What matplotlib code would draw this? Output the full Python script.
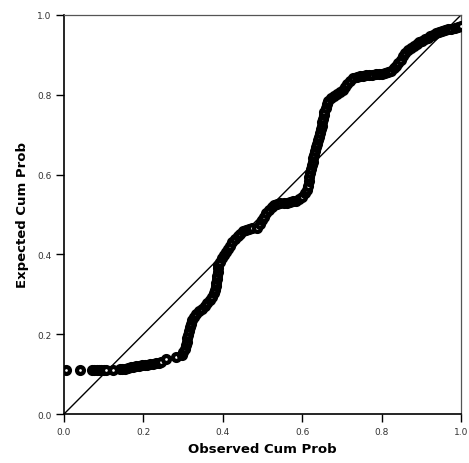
import numpy as np
import matplotlib.pyplot as plt

# observed vs expected cumulative probability (P-P plot)
observed = [
    0.005, 0.040, 0.070, 0.076, 0.082, 0.088, 0.094, 0.100, 0.106, 0.124,
    0.140, 0.147, 0.154, 0.161, 0.168, 0.175, 0.182, 0.189, 0.196, 0.203,
    0.210, 0.217, 0.224, 0.231, 0.238, 0.245, 0.256, 0.283,
    0.296, 0.300, 0.304, 0.307, 0.309, 0.311, 0.313, 0.315, 0.317, 0.320,
    0.323, 0.327, 0.333, 0.340, 0.347, 0.354, 0.361, 0.368, 0.374, 0.378,
    0.381, 0.383, 0.384, 0.385, 0.386, 0.387, 0.388, 0.389, 0.392, 0.397,
    0.402, 0.407, 0.412, 0.418, 0.424, 0.430, 0.437, 0.444, 0.451, 0.458,
    0.466, 0.474, 0.486,
    0.494, 0.499, 0.504, 0.510, 0.516, 0.523, 0.530, 0.537, 0.545, 0.553,
    0.561, 0.569, 0.577, 0.585, 0.593, 0.600, 0.606, 0.611, 0.614, 0.617,
    0.617,
    0.620, 0.622, 0.624, 0.626, 0.628, 0.630, 0.632, 0.634, 0.637, 0.640,
    0.643, 0.645, 0.647, 0.649, 0.651, 0.652, 0.654, 0.656, 0.659, 0.662,
    0.666, 0.672, 0.679, 0.687, 0.695, 0.702, 0.708, 0.714, 0.721, 0.729,
    0.737, 0.745, 0.753, 0.761, 0.769, 0.777, 0.785, 0.793, 0.801, 0.809,
    0.817, 0.824, 0.830, 0.836, 0.842, 0.848, 0.854, 0.860, 0.867, 0.874,
    0.881, 0.888, 0.895, 0.902, 0.909, 0.916, 0.923, 0.930, 0.937, 0.944,
    0.952, 0.960, 0.968, 0.976, 0.984, 0.992, 0.999,
]
expected = [
    0.110, 0.110, 0.110, 0.110, 0.110, 0.110, 0.110, 0.110, 0.110, 0.110,
    0.112, 0.113, 0.114, 0.116, 0.117, 0.118, 0.120, 0.121, 0.122, 0.123,
    0.124, 0.125, 0.126, 0.127, 0.128, 0.130, 0.138, 0.143,
    0.148, 0.155, 0.163, 0.172, 0.181, 0.190, 0.199, 0.208, 0.217, 0.226,
    0.235, 0.243, 0.250, 0.257, 0.264, 0.271, 0.278, 0.286, 0.294, 0.302,
    0.311, 0.320, 0.329, 0.338, 0.347, 0.356, 0.365, 0.374, 0.382, 0.390,
    0.398, 0.406, 0.414, 0.422, 0.430, 0.438, 0.445, 0.452, 0.458, 0.462,
    0.464, 0.465, 0.466,
    0.476, 0.485, 0.494, 0.503, 0.511, 0.518, 0.523, 0.526, 0.528, 0.529,
    0.530, 0.531, 0.533, 0.535, 0.538, 0.545, 0.553, 0.562, 0.571, 0.585,
    0.595,
    0.605, 0.614, 0.623, 0.632, 0.641, 0.650, 0.659, 0.668, 0.677, 0.686,
    0.695, 0.704, 0.713, 0.722, 0.731, 0.740, 0.749, 0.758, 0.767, 0.776,
    0.784, 0.791, 0.797, 0.802, 0.807, 0.813, 0.820, 0.828, 0.835, 0.841,
    0.845, 0.847, 0.848, 0.849, 0.849, 0.850, 0.851, 0.852, 0.853, 0.854,
    0.856, 0.860, 0.866, 0.873, 0.880, 0.888, 0.896, 0.904, 0.911, 0.917,
    0.922, 0.927, 0.931, 0.935, 0.939, 0.943, 0.947, 0.951, 0.954, 0.957,
    0.960, 0.962, 0.964, 0.966, 0.968, 0.970, 0.972,
]

ticks = [0.0, 0.2, 0.4, 0.6, 0.8, 1.0]
tick_labels = ['0.0', '0.2', '0.4', '0.6', '0.8', '1.0']

fig = plt.figure(figsize=(4.69, 4.64), dpi=100)
ax = fig.add_axes([0.1365, 0.1056, 0.8465, 0.86])

# reference diagonal
ax.plot([0, 1], [0, 1], color='black', lw=1.0, zorder=2)

ax.scatter(observed, expected, s=25, facecolors='white', edgecolors='black',
           linewidths=3.0, zorder=3)

ax.set_xlim(0, 1)
ax.set_ylim(0, 1)
ax.set_xticks(ticks)
ax.set_yticks(ticks)
ax.set_xticklabels(tick_labels)
ax.set_yticklabels(tick_labels)
ax.tick_params(direction='out', length=6, width=1.0, labelsize=6.5,
               labelcolor='#333333')
ax.tick_params(axis='y', pad=3)
ax.tick_params(axis='x', pad=3)

for side in ['left', 'bottom']:
    ax.spines[side].set_linewidth(1.2)
for side in ['top', 'right']:
    ax.spines[side].set_linewidth(0.9)
    ax.spines[side].set_color('#555555')

ax.set_xlabel('Observed Cum Prob', fontsize=9.5, fontweight='bold', labelpad=5)
ax.set_ylabel('Expected Cum Prob', fontsize=9.5, fontweight='bold', labelpad=6)

plt.savefig('out.png', dpi=100)
